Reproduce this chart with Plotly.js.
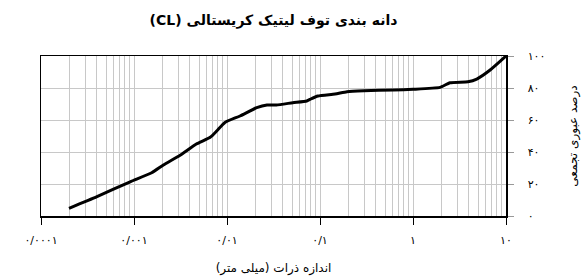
<!DOCTYPE html>
<html>
<head>
<meta charset="utf-8">
<script src="https://cdn.plot.ly/plotly-3.0.1.min.js"></script>
<style>html,body{margin:0;padding:0;background:#fff;}#chart{width:583px;height:277px;}</style>
</head>
<body>
<div id="chart"></div>
<script>
// Particle size (mm)
const sizes = [0.0002, 0.0004, 0.00091, 0.00155, 0.00207, 0.00313, 0.00468, 0.0066, 0.0078, 0.0095,
  0.0138, 0.0209, 0.0269, 0.034, 0.051, 0.072, 0.078, 0.095, 0.145, 0.195,
  0.295, 0.62, 1.0, 1.95, 2.5, 3.9, 4.85, 6.75, 10];
// Cumulative passing percent
const passing = [4.8, 12.1, 21.4, 27, 31.9, 38, 45, 49.2, 53.3, 58.5,
  62.5, 67.7, 69.4, 69.4, 70.8, 71.9, 72.9, 75, 76.25, 77.7,
  78.3, 78.75, 79.2, 80.4, 83.3, 83.9, 85.6, 91.25, 100];
const xTickVals = [0.0001, 0.001, 0.01, 0.1, 1, 10];
const xTickText = ['۰/۰۰۰۱', '۰/۰۰۱', '۰/۰۱', '۰/۱', '۱', '۱۰'];
const yTickVals = [0, 20, 40, 60, 80, 100];
const yTickText = ['۰', '۲۰', '۴۰', '۶۰', '۸۰', '۱۰۰'];
const titleLatin = '(CL)';
const titleText = 'دانه بندی توف لیتیک کریستالی';
const xTitle = 'اندازه ذرات (میلی متر)';
const yTitle = 'درصد عبوری تجمعی';

const font = 'DejaVu Sans, Noto Sans, sans-serif';

Plotly.newPlot('chart', [{
  x: sizes, y: passing, type: 'scatter', mode: 'lines',
  line: {color: '#000', width: 3, shape: 'spline', smoothing: 0.5},
  hoverinfo: 'skip'
}], {
  width: 583, height: 277,
  margin: {l: 41, r: 77, t: 56, b: 61},
  paper_bgcolor: '#fff', plot_bgcolor: '#fff',
  showlegend: false,
  font: {family: font, color: '#000', size: 11},
  title: {text: '<b>' + titleLatin + ' ' + titleText + '</b>', font: {size: 14, family: font},
          x: 0.5, xref: 'paper', xanchor: 'center', y: 1 - 20/277, yref: 'container', yanchor: 'middle'},
  xaxis: {
    type: 'log', range: [-4, 1],
    tickvals: xTickVals, ticktext: xTickText,
    ticks: 'outside', ticklen: 7, tickcolor: '#000', tickwidth: 1,
    ticklabelstandoff: 6,
    showgrid: true, gridcolor: '#c8c8c8', gridwidth: 1,
    minor: {dtick: 'D1', showgrid: true, gridcolor: '#c8c8c8', gridwidth: 1, ticks: ''},
    showline: true, linecolor: '#000', linewidth: 1.5, mirror: true,
    tickfont: {size: 11, family: font},
    title: {text: xTitle, font: {size: 12, family: font}, standoff: 18},
    zeroline: false, fixedrange: true
  },
  yaxis: {
    side: 'right', range: [0, 100],
    tickvals: yTickVals, ticktext: yTickText,
    ticks: 'outside', ticklen: 6, tickcolor: '#999',
    ticklabelstandoff: 12,
    showgrid: true, gridcolor: '#c8c8c8', gridwidth: 1,
    showline: true, linecolor: '#000', linewidth: 1.5, mirror: true,
    tickfont: {size: 11, family: font},
    title: {text: yTitle, font: {size: 12, family: font}, standoff: 24},
    zeroline: false, fixedrange: true
  }
}, {staticPlot: true, displayModeBar: false});
</script>
</body>
</html>
